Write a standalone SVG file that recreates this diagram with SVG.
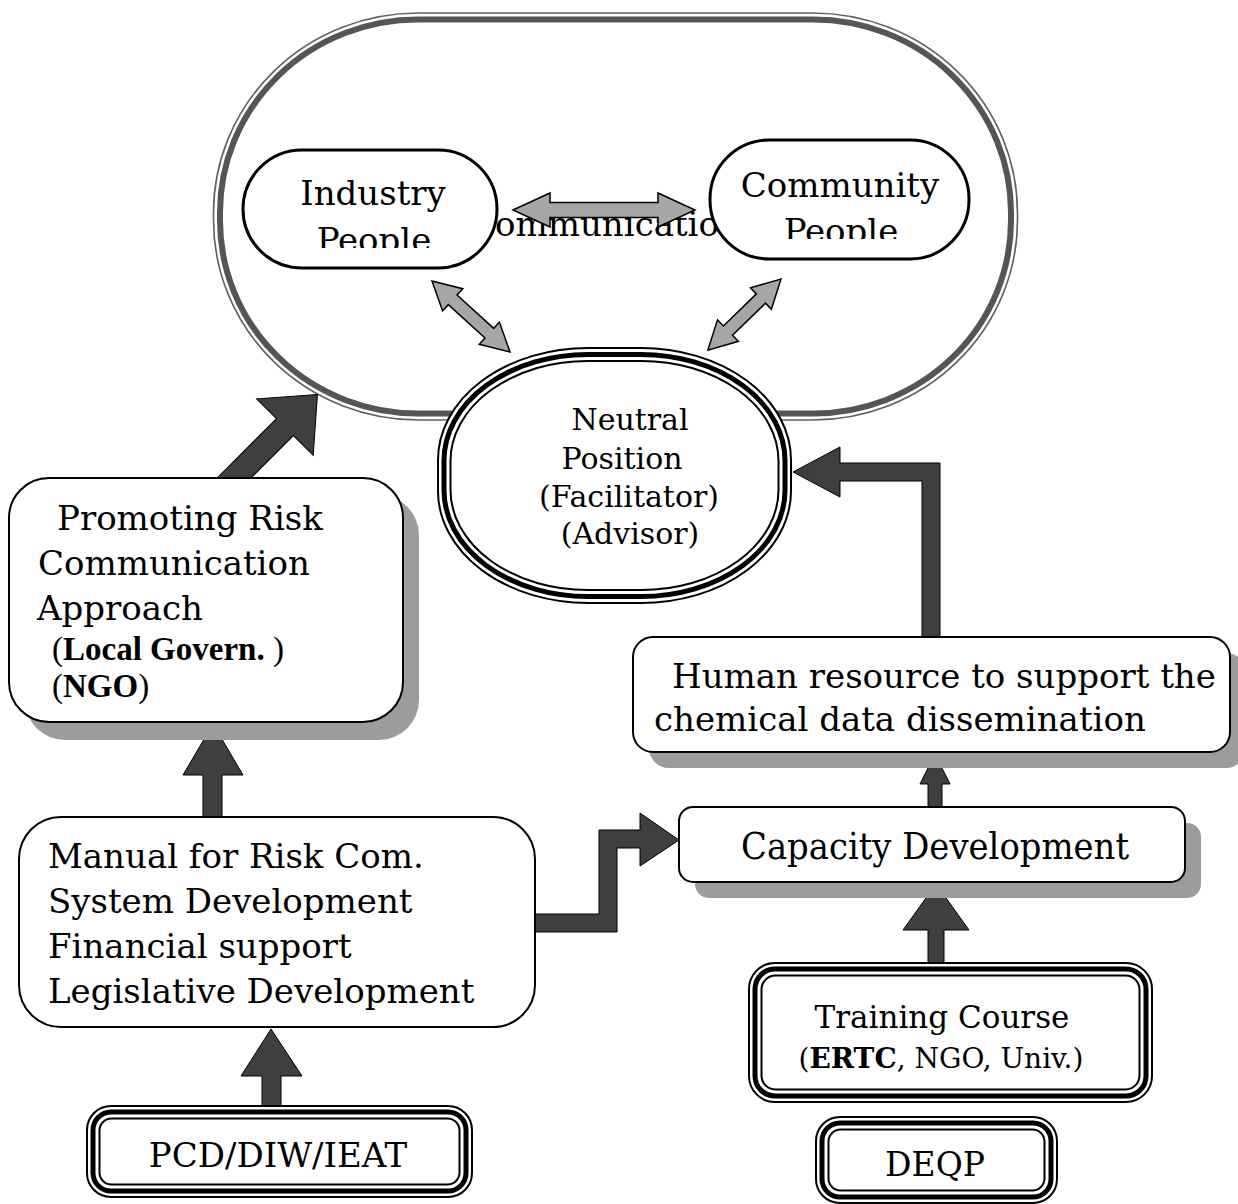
<svg xmlns="http://www.w3.org/2000/svg" width="1238" height="1204" viewBox="0 0 1238 1204">
  <style>
    .t { font-family: "DejaVu Serif", "Liberation Serif", serif; fill: #000; }
    .tb { font-family: "Liberation Serif", "DejaVu Serif", serif; fill: #000; }
    .b { font-weight: bold; }
    .box { fill: #fff; stroke: #000; stroke-width: 2; }
    .shadow { fill: #9c9c9c; }
    .pill { fill: #fff; stroke: #000; stroke-width: 3; }
    .thin { fill: none; stroke: #000; stroke-width: 2; }
    .thick { fill: none; stroke: #000; stroke-width: 5; }
    .ring-thin { fill: none; stroke: #606060; stroke-width: 1.6; }
    .ring-thick { fill: none; stroke: #555; stroke-width: 6; }
    .dark { fill: #3f3f3f; stroke: #000; stroke-width: 1; }
    .grey { fill: #a6a6a6; stroke: #000; stroke-width: 1.5; }
  </style>
  <defs>
    <clipPath id="clipIndustry"><rect x="240" y="140" width="260" height="108"/></clipPath>
    <clipPath id="clipCommunity"><rect x="705" y="130" width="270" height="109"/></clipPath>
  </defs>

  <!-- outer double-line ring enclosing the stakeholders -->
  <g id="arena">
    <rect class="ring-thin" x="213.5" y="13" width="804" height="407" rx="205" ry="200"/>
    <rect class="ring-thick" x="220" y="19.5" width="791" height="394" rx="198" ry="193"/>
  </g>

  <!-- label lying behind the two-way arrow -->
  <text class="t" x="469" y="236" font-size="34">Communication</text>

  <g id="connectors">
    <!-- two-way grey arrows -->
    <path class="grey" transform="translate(513,210)" d="M0,0 L37,-17 L37,-7.5 L145,-7.5 L145,-17 L182,0 L145,17 L145,7.5 L37,7.5 L37,17 Z"/>
    <path class="grey" transform="translate(432,281) rotate(42.3)" d="M0,0 L28,-15 L28,-6.5 L77.5,-6.5 L77.5,-15 L105.5,0 L77.5,15 L77.5,6.5 L28,6.5 L28,15 Z"/>
    <path class="grey" transform="translate(781,279) rotate(135.8)" d="M0,0 L28,-15 L28,-6.5 L74,-6.5 L74,-15 L102,0 L74,15 L74,6.5 L28,6.5 L28,15 Z"/>

    <!-- promoting box to the ring -->
    <polygon class="dark" transform="translate(234,478) rotate(-45)" points="-12,-12 72,-12 72,-40 118,0 72,40 72,12 -12,12"/>
    <!-- human resource to neutral position -->
    <polygon class="dark" points="922,642 922,481 840,481 840,497 793,472 840,447 840,463 940,463 940,642"/>
    <!-- capacity development to human resource -->
    <polygon class="dark" points="928,812 928,784 920,784 935,754 950,784 942,784 942,812"/>
    <!-- training course to capacity development -->
    <polygon class="dark" points="928,968 928,930 903,930 936,884 969,930 944,930 944,968"/>
    <!-- manual to capacity development -->
    <polygon class="dark" points="530,914 599,914 599,830 640,830 640,813 679,840 640,866 640,848 617,848 617,932 530,932"/>
    <!-- manual to promoting box -->
    <polygon class="dark" points="203,822 203,775 183,775 213,724 243,775 222,775 222,822"/>
    <!-- PCD/DIW/IEAT to manual -->
    <polygon class="dark" points="262,1110 262,1076 241,1076 271,1029 302,1076 281,1076 281,1110"/>
  </g>

  <g id="industry">
    <rect class="pill" x="243" y="150" width="254" height="118" rx="59" ry="59"/>
    <g clip-path="url(#clipIndustry)">
      <text class="t" x="373" y="205" font-size="34" text-anchor="middle">Industry</text>
      <text class="t" x="374" y="252" font-size="34" text-anchor="middle">People</text>
    </g>
  </g>

  <g id="community">
    <rect class="pill" x="710" y="140" width="259" height="119" rx="59" ry="59"/>
    <g clip-path="url(#clipCommunity)">
      <text class="t" x="840" y="197" font-size="34" text-anchor="middle">Community</text>
      <text class="t" x="841" y="243" font-size="34" text-anchor="middle">People</text>
    </g>
  </g>

  <g id="neutral">
    <rect x="438" y="348" width="353" height="255" rx="150" ry="112" fill="#fff" stroke="#000" stroke-width="2"/>
    <rect class="thick" x="444" y="354.5" width="341" height="242" rx="144" ry="106"/>
    <rect class="thin" x="450.5" y="361" width="328" height="229" rx="137" ry="100"/>
    <text class="t" x="630" y="430" font-size="30" text-anchor="middle">Neutral</text>
    <text class="t" x="622" y="469" font-size="30" text-anchor="middle">Position</text>
    <text class="t" x="629" y="507" font-size="30" text-anchor="middle">(Facilitator)</text>
    <text class="t" x="630" y="544" font-size="30" text-anchor="middle">(Advisor)</text>
  </g>

  <g id="promoting">
    <rect class="shadow" x="25" y="495" width="394" height="245" rx="40"/>
    <rect class="box" x="9" y="478" width="394" height="244" rx="40"/>
    <text class="t" x="57" y="530" font-size="34">Promoting Risk</text>
    <text class="t" x="38" y="575" font-size="34">Communication</text>
    <text class="t" x="37" y="620" font-size="34">Approach</text>
    <text class="tb" x="52" y="660" font-size="33">(<tspan class="b">Local Govern.</tspan> )</text>
    <text class="tb" x="52" y="697" font-size="33">(<tspan class="b">NGO</tspan>)</text>
  </g>

  <g id="human-resource">
    <rect class="shadow" x="649" y="653" width="597" height="115" rx="20"/>
    <rect class="box" x="633" y="637" width="597" height="115" rx="20"/>
    <text class="t" x="672" y="688" font-size="34">Human resource to support the</text>
    <text class="t" x="654" y="731" font-size="34">chemical data dissemination</text>
  </g>

  <g id="capacity">
    <rect class="shadow" x="695" y="823" width="506" height="75" rx="14"/>
    <rect class="box" x="679" y="807" width="506" height="75" rx="14"/>
    <text class="t" x="741" y="859" font-size="38" textLength="388" lengthAdjust="spacingAndGlyphs">Capacity Development</text>
  </g>

  <g id="manual">
    <rect class="box" x="19" y="817" width="516" height="210" rx="42"/>
    <text class="t" x="48" y="868" font-size="34">Manual for Risk Com.</text>
    <text class="t" x="48" y="913" font-size="34">System Development</text>
    <text class="t" x="48" y="958" font-size="34">Financial support</text>
    <text class="t" x="48" y="1003" font-size="34">Legislative Development</text>
  </g>

  <g id="training">
    <rect x="749" y="963" width="403" height="139" rx="26" fill="#fff" stroke="#000" stroke-width="2"/>
    <rect class="thick" x="755" y="969" width="391" height="127" rx="20"/>
    <rect class="thin" x="761.5" y="975.5" width="378" height="114" rx="14"/>
    <text class="t" x="942" y="1028" font-size="31" text-anchor="middle">Training Course</text>
    <text class="t" x="941" y="1068" font-size="28" text-anchor="middle">(<tspan class="b">ERTC</tspan>, NGO, Univ.)</text>
  </g>

  <g id="pcd">
    <rect x="87" y="1106" width="385" height="91" rx="24" fill="#fff" stroke="#000" stroke-width="2"/>
    <rect class="thick" x="93" y="1112" width="373" height="79" rx="18"/>
    <rect class="thin" x="99.5" y="1118.5" width="360" height="66" rx="12"/>
    <text class="t" x="278" y="1167" font-size="34" text-anchor="middle">PCD/DIW/IEAT</text>
  </g>

  <g id="deqp">
    <rect x="816" y="1117" width="241" height="86" rx="24" fill="#fff" stroke="#000" stroke-width="2"/>
    <rect class="thick" x="822" y="1123" width="229" height="74" rx="18"/>
    <rect class="thin" x="828.5" y="1129.5" width="216" height="61" rx="12"/>
    <text class="t" x="935" y="1176" font-size="33" text-anchor="middle">DEQP</text>
  </g>
</svg>
